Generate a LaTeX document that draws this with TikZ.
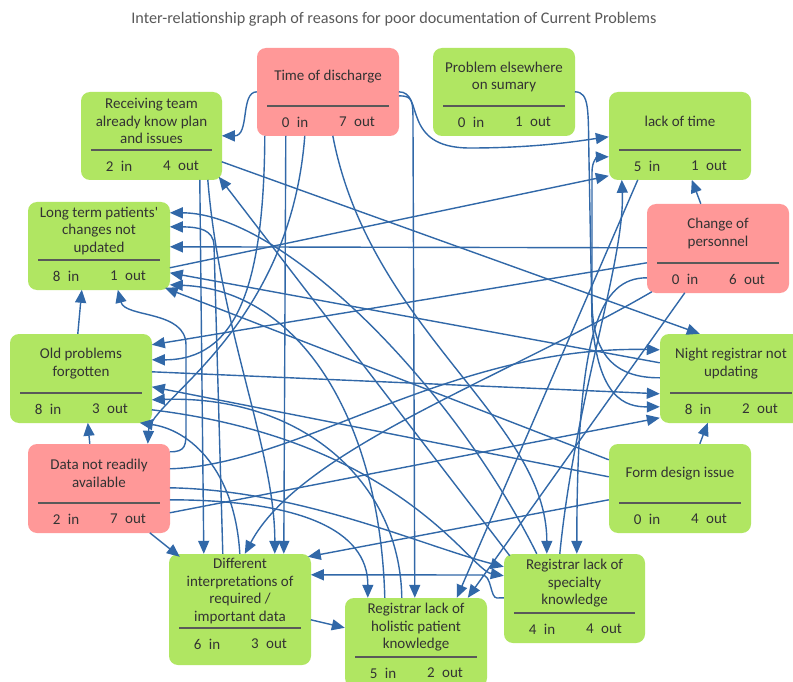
\documentclass[tikz,border=0pt]{standalone}
\usepackage{fontspec}
\setmainfont{Carlito}
\usepackage{graphicx}
\usetikzlibrary{arrows.meta,calc}
\definecolor{cardgreen}{RGB}{176,230,98}
\definecolor{cardred}{RGB}{255,152,152}
\definecolor{edgeblue}{RGB}{49,104,168}
\definecolor{txtgray}{RGB}{51,51,51}
\definecolor{titlegray}{RGB}{89,89,89}
\newcommand\divoff{30}
\newcommand\mkcard[9]{%
  \pgfmathsetmacro\cx{#2+#4/2}%
  \pgfmathsetmacro\cy{#3+#5/2}%
  \pgfmathsetmacro\dy{#3+#5-\divoff}%
  \pgfmathsetmacro\ty{(#3+\dy)/2}%
  \pgfmathsetmacro\ky{\dy+16}%
  \node[card,fill=#6,minimum width=#4pt,minimum height=#5pt] (#1) at (\cx,\cy) {};
  \node[cardtext] (#1-t) at (\cx,\ty) {#7};
  \draw[divider] (#2+10,\dy) -- (#2+#4-10,\dy);
  \node[cardtext] (#1-i) at (#2+38,\ky) {#8\enspace in};
  \node[cardtext] (#1-o) at (#2+100,\ky) {#9\enspace out};
}
\begin{document}
\begin{tikzpicture}[x=1pt,y=-1pt,
  card/.style={rounded corners=9pt,inner sep=0pt,draw=none},
  cardtext/.style={align=center,inner sep=0pt,text=txtgray,font=\fontsize{15}{17.5}\selectfont},
  divider/.style={draw=black!65,line width=1.1pt},
  ed/.style={draw=edgeblue,line width=1.4pt,-{Triangle[length=13pt,width=11pt]}},
  titlestyle/.style={inner sep=0pt,text=titlegray,font=\fontsize{16.2}{19}\selectfont}]
\useasboundingbox (0,0) rectangle (793,682);
\fill[white] (0,0) rectangle (793,682);
\node[titlestyle] (title) at (394,19) {Inter-relationship graph of reasons for poor documentation of Current Problems};

\mkcard{tod}{257}{48}{142}{88}{cardred}{Time of discharge}{0}{7}
\mkcard{pe}{433}{48}{142}{88}{cardgreen}{Problem elsewhere\\on sumary}{0}{1}
\mkcard{rt}{81}{92}{141}{88}{cardgreen}{Receiving team\\already know plan\\and issues}{2}{4}
\mkcard{lt}{609}{92}{142}{88}{cardgreen}{lack of time}{5}{1}
\mkcard{ltp}{28}{202}{142}{88}{cardgreen}{Long term patients\textquotesingle\\changes not\\updated}{8}{1}
\mkcard{cp}{647}{204}{142}{89}{cardred}{Change of\\personnel}{0}{6}
\mkcard{op}{10}{334}{142}{89}{cardgreen}{Old problems\\forgotten}{8}{3}
\mkcard{nr}{660}{334}{142}{89}{cardgreen}{Night registrar not\\updating}{8}{2}
\mkcard{dn}{28}{444}{142}{89}{cardred}{Data not readily\\available}{2}{7}
\mkcard{fd}{609}{444}{142}{89}{cardgreen}{Form design issue}{0}{4}
\renewcommand\divoff{37}
\mkcard{di}{169}{554}{142}{111}{cardgreen}{Different\\interpretations of\\required /\\important data}{6}{3}
\renewcommand\divoff{30}
\mkcard{rs}{504}{554}{141}{89}{cardgreen}{Registrar lack of\\specialty\\knowledge}{4}{4}
\mkcard{rh}{345}{598}{142}{89}{cardgreen}{Registrar lack of\\holistic patient\\knowledge}{5}{2}

% Time of discharge
\draw[ed] ($(tod.north west)+(0,44)$) .. controls (240,92) and (250,136) .. ($(rt.north west)+(141,44)$);
\draw[ed] ($(tod.north west)+(142,44)$) .. controls (425,92) and (400,148) .. (470,148) .. controls (540,148) and (585,140) .. ($(lt.north west)+(0,45)$);
\draw[ed] ($(tod.north west)+(142,48)$) .. controls (413,96) and (413,100) .. (413,125) -- ($(rh.north west)+(70,0)$);
\draw[ed] ($(tod.north west)+(29,88)$) -- ($(di.north west)+(115,0)$);
\draw[ed] ($(tod.north west)+(8,88)$) .. controls (264,290) and (235,360) .. ($(op.north west)+(142,26)$);
\draw[ed] ($(tod.north west)+(48,88)$) .. controls (290,330) and (150,400) .. ($(dn.north west)+(120,0)$);
\draw[ed] ($(tod.north west)+(76,88)$) .. controls (370,330) and (547,420) .. ($(rs.north west)+(43,0)$);
% Problem elsewhere
\draw[ed] ($(pe.north west)+(142,44)$) .. controls (590,92) and (588,110) .. (589,160) -- (592,320) .. controls (598,398) and (625,407) .. ($(nr.north west)+(0,73)$);
% Receiving team
\draw[ed] ($(rt.north west)+(141,70)$) -- ($(nr.north west)+(40,0)$);
\draw[ed] ($(rt.north west)+(127,88)$) .. controls (220,330) and (275,450) .. ($(di.north west)+(106,0)$);
\draw[ed] ($(rt.north west)+(119,88)$) -- ($(di.north west)+(35,0)$);
% lack of time
\draw[ed] ($(lt.north west)+(29,88)$) -- ($(rh.north west)+(112,0)$);
% Long term
\draw[ed] ($(ltp.north west)+(142,66)$) -- ($(lt.north west)+(0,84)$);
% Change of personnel
\draw[ed] ($(cp.north west)+(54,0)$) -- ($(lt.north west)+(83,88)$);
\draw[ed] ($(cp.north west)+(38,89)$) -- ($(rh.north west)+(123,0)$);
\draw[ed] ($(cp.north west)+(0,44)$) -- ($(ltp.north west)+(142,45)$);
\draw[ed] ($(cp.north west)+(0,59)$) -- ($(op.north west)+(142,11)$);
\draw[ed] ($(cp.north west)+(0,74)$) .. controls (600,278) and (577,330) .. ($(rs.north west)+(73,0)$);
\draw[ed] ($(cp.north west)+(5,88)$) .. controls (500,380) and (300,450) .. ($(di.north west)+(76,0)$);
% Data not readily available
\draw[ed] ($(dn.north west)+(62,0)$) -- ($(op.north west)+(78,89)$);
\draw[ed] ($(dn.north west)+(122,89)$) -- ($(di.north west)+(11,3)$);
\draw[ed] ($(dn.north west)+(142,8)$) .. controls (186,452) and (186,445) .. (186,430) -- (186,345) .. controls (186,310) and (125,318) .. ($(ltp.north west)+(90,88)$);
\draw[ed] ($(dn.north west)+(142,25)$) .. controls (300,465) and (450,345) .. ($(nr.north west)+(0,16)$);
\draw[ed] ($(dn.north west)+(142,44)$) .. controls (300,490) and (420,545) .. ($(rs.north west)+(0,13)$);
\draw[ed] ($(dn.north west)+(142,56)$) .. controls (300,500) and (368,530) .. ($(rh.north west)+(23,0)$);
\draw[ed] ($(dn.north west)+(142,69)$) -- ($(nr.north west)+(0,84)$);
% Old problems
\draw[ed] ($(op.north west)+(68,0)$) -- ($(ltp.north west)+(54,88)$);
\draw[ed] ($(op.north west)+(142,38)$) -- ($(nr.north west)+(0,60)$);
\draw[ed] ($(op.north west)+(142,76)$) .. controls (400,440) and (470,570) .. ($(rs.north west)+(0,22)$);
% Night registrar
\draw[ed] ($(nr.north west)+(0,44)$) .. controls (615,378) and (592,355) .. (592,300) -- (592,172) .. controls (592,160) and (598,157) .. ($(lt.north west)+(0,65)$);
\draw[ed] ($(nr.north west)+(0,29)$) -- ($(ltp.north west)+(142,71)$);
% Form design
\draw[ed] ($(fd.north west)+(91,0)$) -- ($(nr.north west)+(48,89)$);
\draw[ed] ($(fd.north west)+(0,16)$) -- ($(ltp.north west)+(137,86)$);
\draw[ed] ($(fd.north west)+(0,56)$) -- ($(di.north west)+(139,3)$);
\draw[ed] ($(fd.north west)+(0,33)$) -- ($(op.north west)+(142,53)$);
% Different interpretations
\draw[ed] ($(di.north west)+(142,66)$) -- ($(rh.north west)+(0,30)$);
\draw[ed] ($(di.north west)+(71,0)$) .. controls (235,470) and (190,430) .. ($(op.north west)+(130,89)$);
\draw[ed] ($(di.north west)+(54,0)$) -- (214,245) .. controls (213,230) and (200,227) .. ($(ltp.north west)+(142,25)$);
% Registrar specialty
\draw[ed] ($(rs.north west)+(6,2)$) -- ($(rt.north west)+(138,85)$);
\draw[ed] ($(rs.north west)+(33,0)$) .. controls (450,380) and (280,213) .. ($(ltp.north west)+(142,11)$);
\draw[ed] ($(rs.north west)+(0,44)$) -- (497,598) .. controls (490,598) and (492,575) .. (482,575) -- ($(di.north west)+(142,21)$);
\draw[ed] ($(rs.north west)+(56,0)$) .. controls (575,400) and (625,260) .. ($(lt.north west)+(13,88)$);
% Registrar holistic
\draw[ed] ($(rh.north west)+(57,0)$) .. controls (400,480) and (300,395) .. ($(op.north west)+(142,66)$);
\draw[ed] ($(rh.north west)+(40,0)$) .. controls (380,420) and (300,290) .. ($(ltp.north west)+(142,83)$);
\end{tikzpicture}
\end{document}
